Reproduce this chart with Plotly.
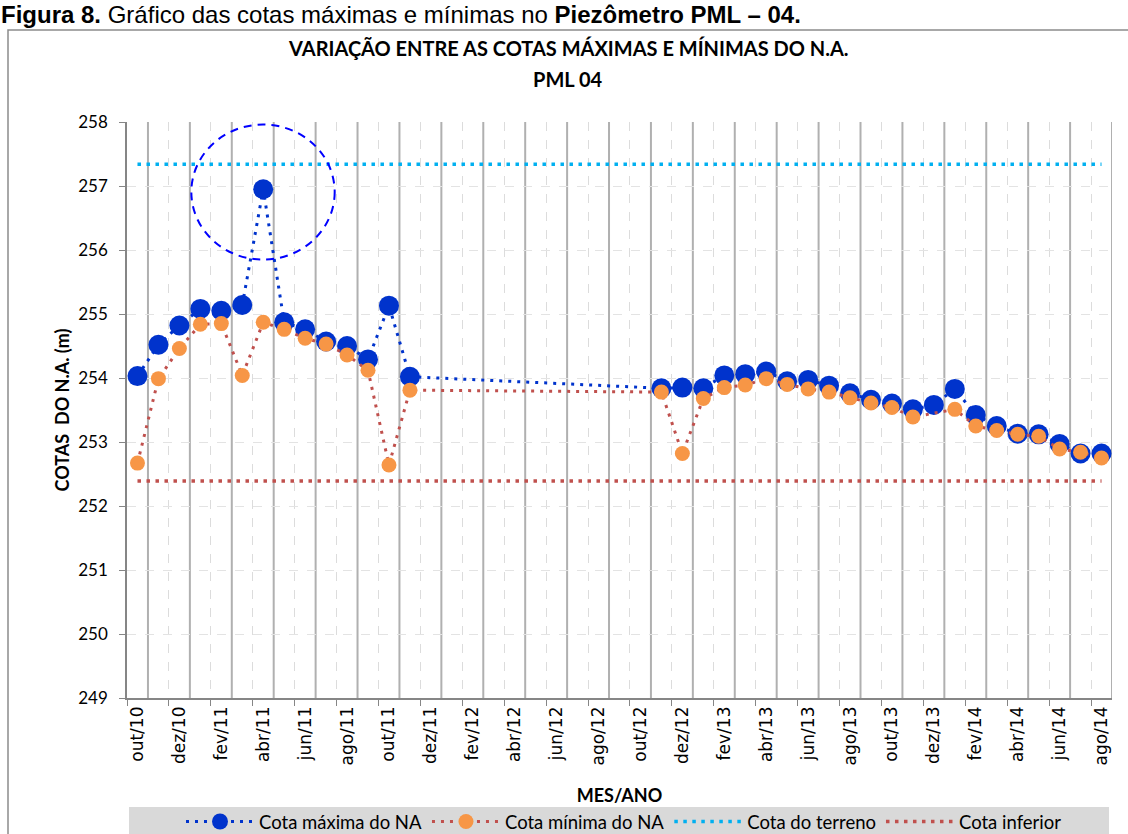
import plotly.graph_objects as go

# ---------------- data ----------------
meses = ["out/10", "nov/10", "dez/10", "jan/11", "fev/11", "mar/11", "abr/11", "mai/11",
         "jun/11", "jul/11", "ago/11", "set/11", "out/11", "nov/11", "dez/11", "jan/12",
         "fev/12", "mar/12", "abr/12", "mai/12", "jun/12", "jul/12", "ago/12", "set/12",
         "out/12", "nov/12", "dez/12", "jan/13", "fev/13", "mar/13", "abr/13", "mai/13",
         "jun/13", "jul/13", "ago/13", "set/13", "out/13", "nov/13", "dez/13", "jan/14",
         "fev/14", "mar/14", "abr/14", "mai/14", "jun/14", "jul/14", "ago/14"]

cota_maxima = [254.03, 254.52, 254.82, 255.08, 255.05, 255.14, 256.95, 254.87,
               254.76, 254.57, 254.50, 254.29, 255.13, 254.02, None, None,
               None, None, None, None, None, None, None, None,
               None, 253.84, 253.85, 253.84, 254.04, 254.06, 254.10, 253.95,
               253.97, 253.88, 253.76, 253.66, 253.60, 253.51, 253.58, 253.83,
               253.42, 253.25, 253.13, 253.12, 252.97, 252.82, 252.82]

cota_minima = [252.67, 253.99, 254.46, 254.84, 254.85, 254.04, 254.87, 254.76,
               254.62, 254.53, 254.36, 254.12, 252.64, 253.81, None, None,
               None, None, None, None, None, None, None, None,
               None, 253.78, 252.82, 253.68, 253.85, 253.89, 253.99, 253.90,
               253.83, 253.78, 253.69, 253.61, 253.54, 253.39, None, 253.51,
               253.25, 253.18, 253.12, 253.09, 252.89, 252.84, 252.75]

cota_terreno = 257.34
cota_inferior = 252.39

y_ticks = [249, 250, 251, 252, 253, 254, 255, 256, 257, 258]

# ---------------- figure ----------------
W, H = 1128, 834
L, R, T, B = 127, 16, 122, 136
pw, ph = W - L - R, H - T - B


def px_x(p):
    return (p - L) / pw


def px_y(p):
    return (H - B - p) / ph


BLUE = "#0033CC"
ORANGE = "#F79646"
RED = "#C0504D"
CYAN = "#00B0F0"

fig = go.Figure()

fig.add_trace(go.Scatter(
    x=meses, y=cota_maxima, name="Cota máxima do NA", mode="lines+markers",
    connectgaps=True,
    line=dict(color=BLUE, width=3, dash="3px,6px"),
    marker=dict(color=BLUE, size=20, symbol="circle"),
))
fig.add_trace(go.Scatter(
    x=meses, y=cota_minima, name="Cota mínima do NA", mode="lines+markers",
    connectgaps=True,
    line=dict(color=RED, width=3, dash="3px,6px"),
    marker=dict(color=ORANGE, size=15, symbol="circle"),
))
fig.add_trace(go.Scatter(
    x=[meses[0], meses[-1]], y=[cota_terreno, cota_terreno], name="Cota do terreno",
    mode="lines", line=dict(color=CYAN, width=3.5, dash="3.5px,5.5px"),
))
fig.add_trace(go.Scatter(
    x=[meses[0], meses[-1]], y=[cota_inferior, cota_inferior], name="Cota inferior",
    mode="lines", line=dict(color=RED, width=3.5, dash="3.5px,5.5px"),
))

shapes = []
# solid vertical gridlines at every other category boundary
for k in range(0, len(meses), 2):
    shapes.append(dict(type="line", xref="x", yref="paper", x0=k + 0.5, x1=k + 0.5,
                       y0=0, y1=1, layer="below",
                       line=dict(color="#B0B0B0", width=2)))
# highlight circle around peak
shapes.append(dict(type="circle", xref="x", yref="y", x0=2.57, x1=9.41,
                   y0=255.85, y1=257.96, layer="above",
                   line=dict(color="#0000FF", width=2, dash="8px,6px")))
# legend background
shapes.append(dict(type="rect", xref="paper", yref="paper",
                   x0=px_x(129), x1=px_x(1109), y0=px_y(850), y1=px_y(807),
                   fillcolor="#D9D9D9", line=dict(width=0), layer="below"))
# outer chart frame
shapes.append(dict(type="rect", xref="paper", yref="paper",
                   x0=px_x(8), x1=px_x(1140), y0=px_y(850), y1=px_y(30),
                   fillcolor="rgba(0,0,0,0)", line=dict(color="#8C8C8C", width=1.5),
                   layer="below"))

annotations = [
    dict(text="<b>VARIAÇÃO ENTRE AS COTAS MÁXIMAS E MÍNIMAS DO N.A.</b>",
         xref="paper", yref="paper", x=px_x(568), y=px_y(48), showarrow=False,
         font=dict(family="Lato", size=20, color="#000000"), xanchor="center", yanchor="middle"),
    dict(text="<b>PML 04</b>",
         xref="paper", yref="paper", x=px_x(568), y=px_y(79), showarrow=False,
         font=dict(family="Lato", size=20, color="#000000"), xanchor="center", yanchor="middle"),
    dict(text="<b>Figura 8.</b> Gráfico das cotas máximas e mínimas no <b>Piezômetro PML – 04.</b>",
         xref="paper", yref="paper", x=px_x(0), y=px_y(0), showarrow=False,
         font=dict(family="Liberation Sans, Arial", size=24, color="#000000"),
         xanchor="left", yanchor="top", borderpad=0),
]

fig.update_layout(
    width=W, height=H,
    margin=dict(l=L, r=R, t=T, b=B, pad=0, autoexpand=False),
    paper_bgcolor="white", plot_bgcolor="white",
    shapes=shapes, annotations=annotations,
    showlegend=True,
    legend=dict(orientation="h", x=px_x(624), xanchor="center", y=px_y(803), yanchor="top",
                bgcolor="rgba(0,0,0,0)", font=dict(family="Lato", size=18.5, color="#000000"),
                itemwidth=68, tracegroupgap=0),
    xaxis=dict(
        type="category", categoryorder="array", categoryarray=meses,
        range=[-0.5, len(meses) - 0.5], automargin=False,
        tickmode="linear", tick0=0, dtick=2, tickson="boundaries",
        tickangle=-90, ticks="outside", ticklen=6, tickcolor="#868686",
        tickfont=dict(family="DejaVu Sans", size=17, color="#000000"),
        showgrid=True, gridcolor="#DCDCDC", griddash="dash", gridwidth=1,
        showline=True, linecolor="#868686", linewidth=1.5,
        title=dict(text="<b>MES/ANO</b>", font=dict(family="Lato", size=18, color="#000000"),
                   standoff=25),
        fixedrange=True,
    ),
    yaxis=dict(
        range=[249, 258], tickvals=y_ticks, ticks="outside", ticklen=6, tickcolor="#868686",
        tickfont=dict(family="Lato", size=17, color="#000000"), ticklabelstandoff=8,
        showgrid=True, gridcolor="#E3E3E3", griddash="dash", gridwidth=1,
        showline=True, linecolor="#868686", linewidth=1.5, zeroline=False, automargin=False,
        title=dict(text="<b>COTAS  DO N.A. (m)</b>", font=dict(family="Lato", size=18, color="#000000"),
                   standoff=4),
        fixedrange=True,
    ),
)

fig.write_html("out.html",
               config={"displayModeBar": False},
               post_script="document.body.style.margin='0px';document.body.style.overflow='hidden';")
